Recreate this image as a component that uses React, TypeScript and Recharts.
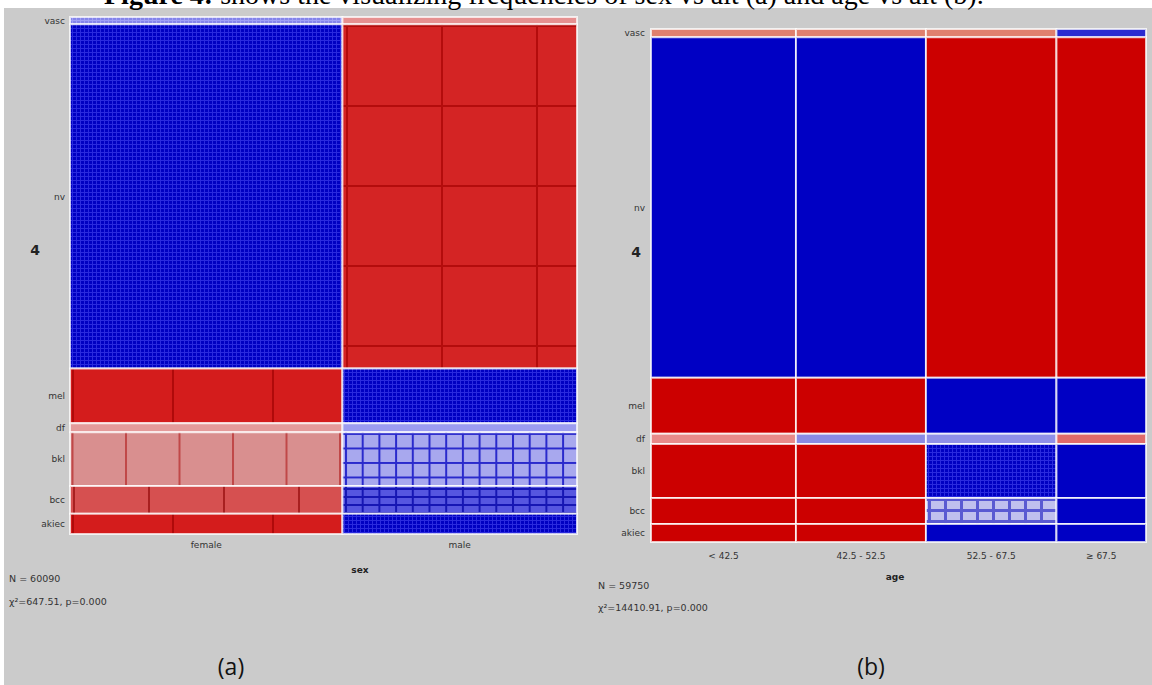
import React from 'react';
import {ComposedChart, XAxis, YAxis, ReferenceArea} from 'recharts';

const lesionTypes = ['vasc', 'nv', 'mel', 'df', 'bkl', 'bcc', 'akiec'];

// (a) sex vs dx
const sexGroups = ['female', 'male'];
const sexCounts = [32290, 27800];
const sexRowShare = [1.4, 66.6, 10.6, 1.7, 10.4, 5.4, 3.9];

// (b) age vs dx
const ageGroups = ['< 42.5', '42.5 - 52.5', '52.5 - 67.5', '≥ 67.5'];
const ageCounts = [17500, 15690, 15750, 10810];
const ageRowShare = [1.6, 66.4, 10.9, 2.0, 10.5, 5.1, 3.5];

// cell fills, one row per lesion type, one entry per column
const sexFills = [
    ['url(#lightBlueFine)', '#e69090'],
    ['url(#blueFine)', 'url(#redBlocks)'],
    ['url(#redCols)', 'url(#blueFine)'],
    ['#e49a9a', '#9c9cf0'],
    ['url(#pinkCols)', 'url(#lightBlueGrid)'],
    ['url(#midRedCols)', 'url(#blueGrid)'],
    ['url(#redCols)', 'url(#blueFine)'],
];
const ageFills = [
    ['#e0806e', '#e0806e', '#e0806e', '#2a2ad0'],
    ['#0000c4', '#0000c4', '#cc0000', '#cc0000'],
    ['#cc0000', '#cc0000', '#0000c4', '#0000c4'],
    ['#e88a8a', '#8a8ae4', '#9090e8', '#e06a6a'],
    ['#cc0000', '#cc0000', 'url(#blueFine)', '#0000c4'],
    ['#cc0000', '#cc0000', 'url(#lightBlueSquares)', '#0000c4'],
    ['#cc0000', '#cc0000', '#0000c4', '#0000c4'],
];

const cumulate = (vals: number[]) => vals.reduce((acc, v) => [...acc, acc[acc.length - 1] + v], [0]);

const tickStyle = {fontSize: 9, fill: '#333', fontFamily: 'DejaVu Sans'};

const Mosaic = ({cats, counts, rowShare, fills, width, height, margin, yWidth, yTickMargin, xTickMargin}: {
    cats: string[],
    counts: number[],
    rowShare: number[],
    fills: string[][],
    width: number,
    height: number,
    margin: { top: number, right: number, left: number, bottom: number },
    yWidth: number,
    yTickMargin: number,
    xTickMargin: number,
}): JSX.Element => {
    const xs = cumulate(counts);
    const ys = cumulate(rowShare);
    const total = xs[xs.length - 1];
    const xCenters = cats.map((_, i) => (xs[i] + xs[i + 1]) / 2);
    const yCenters = lesionTypes.map((_, i) => (ys[i] + ys[i + 1]) / 2);

    return (
        <ComposedChart width={width} height={height} margin={margin} data={[]}>
            <XAxis type="number" dataKey="x" domain={[0, total]} ticks={xCenters} interval={0}
                   tickFormatter={(v: number) => cats[xCenters.indexOf(v)]} axisLine={false} tickLine={false}
                   tickSize={0} tickMargin={xTickMargin} height={20} tick={tickStyle} allowDataOverflow/>
            <YAxis type="number" dataKey="y" domain={[0, ys[ys.length - 1]]} reversed ticks={yCenters} interval={0}
                   tickFormatter={(v: number) => lesionTypes[yCenters.indexOf(v)]} axisLine={false} tickLine={false}
                   tickSize={0} tickMargin={yTickMargin} width={yWidth} tick={tickStyle} allowDataOverflow/>
            {lesionTypes.map((row, r) => cats.map((cat, c) => (
                <ReferenceArea key={row + cat} x1={xs[c]} x2={xs[c + 1]} y1={ys[r]} y2={ys[r + 1]}
                               fill={fills[r][c]} fillOpacity={1} stroke="#ffffff" strokeOpacity={0.75}
                               strokeWidth={2} ifOverflow="visible"/>
            )))}
        </ComposedChart>
    );
}

const abs = (x: number, y: number, extra: React.CSSProperties = {}): React.CSSProperties => ({
    position: 'absolute', left: x, top: y, whiteSpace: 'nowrap', ...extra,
});
const centered = (x: number, y: number, extra: React.CSSProperties = {}): React.CSSProperties =>
    abs(x, y, {transform: 'translate(-50%, -50%)', ...extra});

const statStyle = {fontFamily: 'DejaVu Sans', fontSize: 9.5, color: '#333', lineHeight: '12px'};

const App = (): JSX.Element => {
    return (
        <div style={{position: 'absolute', left: 0, top: 0, width: 1152, height: 685, background: '#fff', overflow: 'hidden'}}>
            <svg width={0} height={0} style={{position: 'absolute'}}>
                <defs>
                    <pattern id="blueFine" patternUnits="userSpaceOnUse" width={4} height={4}>
                        <rect width={4} height={4} fill="#0000c2"/>
                        <path d="M0 0.5H4M0.5 0V4" stroke="#2a2ade" strokeWidth={1}/>
                    </pattern>
                    <pattern id="lightBlueFine" patternUnits="userSpaceOnUse" width={4} height={4}>
                        <rect width={4} height={4} fill="#8484ea"/>
                        <path d="M0 0.5H4M0.5 0V4" stroke="#a0a0f6" strokeWidth={1}/>
                    </pattern>
                    <pattern id="redBlocks" patternUnits="userSpaceOnUse" x={61} y={25} width={95} height={80}>
                        <rect width={95} height={80} fill="#d42424"/>
                        <path d="M0 1H95M1 0V80" stroke="#b40c0c" strokeWidth={2}/>
                    </pattern>
                    <pattern id="redCols" patternUnits="userSpaceOnUse" x={72} y={0} width={100} height={1000}>
                        <rect width={100} height={1000} fill="#d41c1c"/>
                        <path d="M1 0V1000" stroke="#b00a0a" strokeWidth={2}/>
                    </pattern>
                    <pattern id="pinkCols" patternUnits="userSpaceOnUse" x={18} y={0} width={53.5} height={1000}>
                        <rect width={53.5} height={1000} fill="#d98f8f"/>
                        <path d="M1 0V1000" stroke="#c04848" strokeWidth={2}/>
                    </pattern>
                    <pattern id="midRedCols" patternUnits="userSpaceOnUse" x={73} y={0} width={75} height={1000}>
                        <rect width={75} height={1000} fill="#d65050"/>
                        <path d="M1 0V1000" stroke="#a82020" strokeWidth={2}/>
                    </pattern>
                    <pattern id="lightBlueGrid" patternUnits="userSpaceOnUse" x={345} y={433} width={16.7} height={14.5}>
                        <rect width={16.7} height={14.5} fill="#a8a8ee"/>
                        <path d="M0 1H16.7M1 0V14.5" stroke="#2a2acc" strokeWidth={2}/>
                    </pattern>
                    <pattern id="blueGrid" patternUnits="userSpaceOnUse" x={345} y={488} width={16.7} height={8}>
                        <rect width={16.7} height={8} fill="#5656e0"/>
                        <path d="M0 1H16.7M1 0V8" stroke="#1616b4" strokeWidth={2}/>
                    </pattern>
                    <pattern id="lightBlueSquares" patternUnits="userSpaceOnUse" x={348} y={498} width={16} height={11}>
                        <rect width={16} height={11} fill="#c0c0ee"/>
                        <path d="M0 1.5H16M1.5 0V11" stroke="#5a5ad2" strokeWidth={3}/>
                    </pattern>
                </defs>
            </svg>
            <div style={abs(4, 8, {width: 1148, height: 677, background: '#cbcbcb'})}/>
            <div style={abs(104, -19, {fontFamily: 'Liberation Serif', fontSize: 28, lineHeight: '28px', color: '#000'})}>
                <b>Figure 4:</b> shows the visualizing frequencies of sex vs ait (a) and age vs ait (b).
            </div>

            <div style={abs(0, 0)}>
                <Mosaic cats={sexGroups} counts={sexCounts} rowShare={sexRowShare} fills={sexFills}
                        width={580} height={685} margin={{top: 17, right: 3, left: 0, bottom: 131}}
                        yWidth={70} yTickMargin={5} xTickMargin={8}/>
            </div>
            <div style={abs(580, 0)}>
                <Mosaic cats={ageGroups} counts={ageCounts} rowShare={ageRowShare} fills={ageFills}
                        width={572} height={685} margin={{top: 29, right: 6, left: 0, bottom: 123}}
                        yWidth={71} yTickMargin={6} xTickMargin={11}/>
            </div>

            <div style={centered(35, 250, {fontFamily: 'DejaVu Sans', fontWeight: 'bold', fontSize: 14, color: '#222'})}>4</div>
            <div style={centered(360, 570, {fontFamily: 'DejaVu Sans', fontWeight: 'bold', fontSize: 9, color: '#222'})}>sex</div>
            <div style={abs(9, 573, statStyle)}>N = 60090</div>
            <div style={abs(9, 596, statStyle)}>χ²=647.51, p=0.000</div>

            <div style={centered(636, 252, {fontFamily: 'DejaVu Sans', fontWeight: 'bold', fontSize: 14, color: '#222'})}>4</div>
            <div style={centered(895, 577, {fontFamily: 'DejaVu Sans', fontWeight: 'bold', fontSize: 9, color: '#222'})}>age</div>
            <div style={abs(598, 580, statStyle)}>N = 59750</div>
            <div style={abs(598, 602, statStyle)}>χ²=14410.91, p=0.000</div>

            <div style={centered(231, 666, {fontFamily: 'Open Sans', fontSize: 23, color: '#111'})}>(a)</div>
            <div style={centered(871, 666, {fontFamily: 'Open Sans', fontSize: 23, color: '#111'})}>(b)</div>
        </div>
    );
}

export default App;
